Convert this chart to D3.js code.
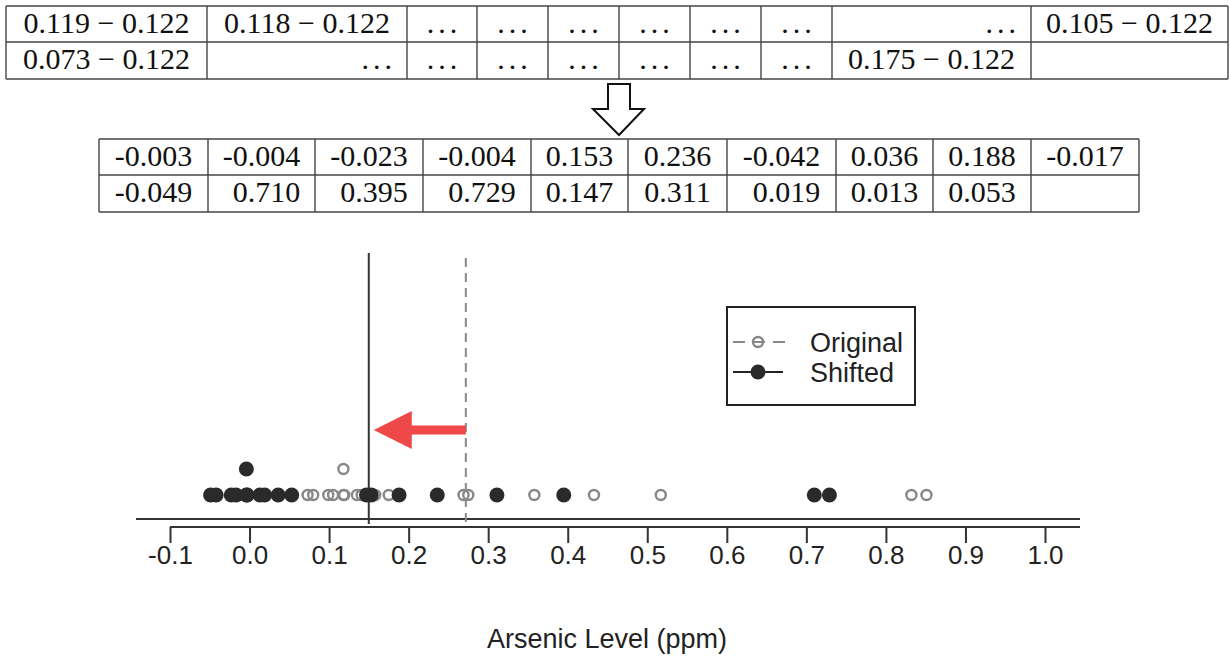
<!DOCTYPE html>
<html>
<head>
<meta charset="utf-8">
<script src="https://cdn.jsdelivr.net/npm/d3@7"></script>
<style>
  body { margin: 0; background: #fff; }
  svg { display: block; }
</style>
</head>
<body>
<div id="chart-container"></div>
<script>
// Data
const shiftedRow1 = [-0.003, -0.004, -0.023, -0.004, 0.153, 0.236, -0.042, 0.036, 0.188, -0.017];
const shiftedRow2 = [-0.049, 0.710, 0.395, 0.729, 0.147, 0.311, 0.019, 0.013, 0.053];
const originalValues = [0.119, 0.118, 0.099, 0.118, 0.275, 0.358, 0.080, 0.158, 0.310, 0.105,
                        0.073, 0.832, 0.517, 0.851, 0.269, 0.433, 0.141, 0.135, 0.175];
const shiftAmount = 0.122;

const table1Row1 = ["0.119 \u2212 0.122", "0.118 \u2212 0.122", "...", "...", "...", "...", "...", "...", "...", "0.105 \u2212 0.122"];
const table1Row2 = ["0.073 \u2212 0.122", "...", "...", "...", "...", "...", "...", "...", "0.175 \u2212 0.122", ""];

const tickValues = [-0.1, 0.0, 0.1, 0.2, 0.3, 0.4, 0.5, 0.6, 0.7, 0.8, 0.9, 1.0];
const tickLabels = ["-0.1", "0.0", "0.1", "0.2", "0.3", "0.4", "0.5", "0.6", "0.7", "0.8", "0.9", "1.0"];
const legendLabels = ["Original", "Shifted"];
const xTitle = "Arsenic Level (ppm)";

const shiftedValues = shiftedRow1.concat(shiftedRow2);

// Layout
const W = 1230, H = 657;
const serif = "'Liberation Serif', 'Times New Roman', serif";
const sans = "'Liberation Sans', Arial, Helvetica, sans-serif";

const svg = d3.select("#chart-container")
    .append("svg")
    .attr("width", W)
    .attr("height", H);

// ---------- tables ----------
const t1Edges = [6, 207, 407, 477, 548, 619, 690, 761, 832, 1031, 1228];
const t1Rows = [6, 42, 79];
const t1RightAligned = [[8], [1]];

const t2Edges = [99, 208, 315, 423, 531, 628, 727, 836, 933, 1031, 1139];
const t2Rows = [139, 175, 212];

function drawGrid(g, edges, rows) {
    edges.forEach(xe => {
        g.append("line")
            .attr("x1", xe).attr("x2", xe)
            .attr("y1", rows[0]).attr("y2", rows[rows.length - 1])
            .attr("stroke", "#444").attr("stroke-width", 1.4);
    });
    rows.forEach(ye => {
        g.append("line")
            .attr("x1", edges[0]).attr("x2", edges[edges.length - 1])
            .attr("y1", ye).attr("y2", ye)
            .attr("stroke", "#444").attr("stroke-width", 1.4);
    });
}

const t1 = svg.append("g");
drawGrid(t1, t1Edges, t1Rows);
[table1Row1, table1Row2].forEach((row, r) => {
    row.forEach((txt, c) => {
        if (!txt) return;
        const right = t1RightAligned[r].includes(c);
        const dots = txt === "...";
        t1.append("text")
            .attr("x", (right ? t1Edges[c + 1] - 13 : (t1Edges[c] + t1Edges[c + 1]) / 2) + (dots ? 2 : 0))
            .attr("y", t1Rows[r] + 27)
            .attr("text-anchor", right ? "end" : "middle")
            .style("font-family", serif)
            .style("font-size", "30px")
            .style("letter-spacing", dots ? "4px" : null)
            .style("fill", "#111")
            .text(txt);
    });
});

// hollow down arrow between the tables
svg.append("path")
    .attr("d", d3.line()([[608, 84], [630, 84], [630, 109], [644, 109], [619, 135], [593, 109], [608, 109]]) + "Z")
    .attr("fill", "#fff")
    .attr("stroke", "#111")
    .attr("stroke-width", 2);

const t2 = svg.append("g");
drawGrid(t2, t2Edges, t2Rows);
const fmt = d3.format(".3f");
[shiftedRow1, shiftedRow2].forEach((row, r) => {
    row.forEach((v, c) => {
        const colHasNeg = shiftedRow1[c] < 0 || (shiftedRow2[c] !== undefined && shiftedRow2[c] < 0);
        const t = t2.append("text")
            .attr("x", (t2Edges[c] + t2Edges[c + 1]) / 2)
            .attr("y", t2Rows[r] + 27)
            .attr("text-anchor", "middle")
            .style("font-family", serif)
            .style("font-size", "30px")
            .style("fill", "#111");
        if (v >= 0 && colHasNeg) {
            t.append("tspan").style("fill-opacity", 0).text("-");
        }
        t.append("tspan").text(fmt(v).replace("\u2212", "-"));
    });
});

// ---------- strip chart ----------
const x = d3.scaleLinear().domain([-0.1, 1.0]).range([170, 1045]);
const stackY = d3.scaleLinear().domain([0, 1]).range([495, 469]);

function stacked(values) {
    const seen = new Map();
    return values.map(v => {
        const k = v.toFixed(3);
        const n = seen.get(k) || 0;
        seen.set(k, n + 1);
        return { v: v, level: n };
    });
}

const meanOriginal = d3.mean(originalValues);
const meanShifted = d3.mean(shiftedValues);

// baseline and axis
svg.append("line")
    .attr("x1", 136).attr("x2", 1080)
    .attr("y1", 519).attr("y2", 519)
    .attr("stroke", "#333").attr("stroke-width", 2);

const axis = svg.append("g")
    .attr("transform", "translate(0,527)")
    .call(d3.axisBottom(x)
        .tickValues(tickValues)
        .tickSize(16)
        .tickPadding(3)
        .tickFormat((d, i) => tickLabels[i]));
axis.select(".domain").remove();
axis.append("line")
    .attr("x1", x(-0.1)).attr("x2", 1080)
    .attr("y1", 0).attr("y2", 0)
    .attr("stroke", "#333").attr("stroke-width", 2);
axis.selectAll(".tick line").attr("stroke", "#333").attr("stroke-width", 2);
axis.selectAll(".tick text")
    .style("font-family", sans)
    .style("font-size", "26px")
    .style("fill", "#222");

svg.append("text")
    .attr("x", 607)
    .attr("y", 648)
    .attr("text-anchor", "middle")
    .style("font-family", sans)
    .style("font-size", "27px")
    .style("fill", "#222")
    .text(xTitle);

// mean lines
svg.append("line")
    .attr("x1", x(meanOriginal)).attr("x2", x(meanOriginal))
    .attr("y1", 258).attr("y2", 524)
    .attr("stroke", "#888").attr("stroke-width", 2)
    .attr("stroke-dasharray", "9,6");
svg.append("line")
    .attr("x1", x(meanShifted)).attr("x2", x(meanShifted))
    .attr("y1", 253).attr("y2", 524)
    .attr("stroke", "#333").attr("stroke-width", 2);

// original points
svg.selectAll(".orig")
    .data(stacked(originalValues))
    .enter()
    .append("circle")
    .attr("class", "orig")
    .attr("cx", d => x(d.v))
    .attr("cy", d => stackY(d.level))
    .attr("r", 5)
    .attr("fill", "none")
    .attr("stroke", "#888")
    .attr("stroke-width", 2.4);

// shifted points
svg.selectAll(".shift")
    .data(stacked(shiftedValues))
    .enter()
    .append("circle")
    .attr("class", "shift")
    .attr("cx", d => x(d.v))
    .attr("cy", d => stackY(d.level))
    .attr("r", 7.5)
    .attr("fill", "#2a2a2a");

// red shift arrow
const ay = 430, tipX = x(meanShifted) + 5, tailX = x(meanOriginal), headLen = 38;
svg.append("path")
    .attr("d", d3.line()([
        [tailX, ay - 4.5], [tipX + headLen, ay - 4.5], [tipX + headLen, ay - 19],
        [tipX, ay], [tipX + headLen, ay + 19], [tipX + headLen, ay + 4.5], [tailX, ay + 4.5]
    ]) + "Z")
    .attr("fill", "#ef4848");

// legend
const legend = svg.append("g");
legend.append("rect")
    .attr("x", 727).attr("y", 307)
    .attr("width", 188).attr("height", 98)
    .attr("fill", "#fff")
    .attr("stroke", "#222").attr("stroke-width", 2);

const legendY = [342, 372];
legend.append("line")
    .attr("x1", 733).attr("x2", 785)
    .attr("y1", legendY[0]).attr("y2", legendY[0])
    .attr("stroke", "#888").attr("stroke-width", 2)
    .attr("stroke-dasharray", "12,8");
legend.append("circle")
    .attr("cx", 758).attr("cy", legendY[0]).attr("r", 5)
    .attr("fill", "none").attr("stroke", "#888").attr("stroke-width", 2.4);
legend.append("line")
    .attr("x1", 733).attr("x2", 783)
    .attr("y1", legendY[1]).attr("y2", legendY[1])
    .attr("stroke", "#222").attr("stroke-width", 2);
legend.append("circle")
    .attr("cx", 758).attr("cy", legendY[1]).attr("r", 7.5)
    .attr("fill", "#2a2a2a");

legend.selectAll(".ltext")
    .data(legendLabels)
    .enter()
    .append("text")
    .attr("x", 810)
    .attr("y", (d, i) => legendY[i] + 10)
    .style("font-family", sans)
    .style("font-size", "27px")
    .style("fill", "#222")
    .text(d => d);
</script>
</body>
</html>
